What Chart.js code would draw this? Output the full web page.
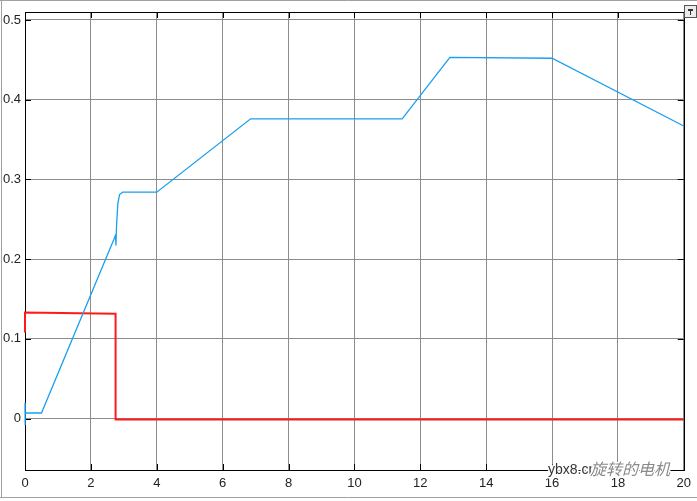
<!DOCTYPE html>
<html>
<head>
<meta charset="utf-8">
<script src="https://cdn.jsdelivr.net/npm/chart.js@4/dist/chart.umd.min.js"></script>
<style>
  html, body { margin: 0; padding: 0; background: #fff; }
  #wrap { width: 697px; height: 501px; position: relative; }
</style>
</head>
<body>
<div id="wrap"><canvas id="scope"></canvas></div>
<script>
// blue trace (time, value)
const blueX = [0, 0, 0.01, 0.5, 2.75, 2.76, 2.78, 2.82, 2.87, 2.97, 4.0, 6.85, 11.45, 12.9, 16.0, 20];
const blueY = [0.02, -0.008, 0.007, 0.007, 0.23, 0.217, 0.243, 0.27, 0.281, 0.284, 0.284, 0.376, 0.376, 0.453, 0.452, 0.367];

// red trace
const redX = [0, 0, 2.75, 2.75, 20];
const redY = [0.108, 0.133, 0.1315, -0.001, -0.001];

const xTicks = [0, 2, 4, 6, 8, 10, 12, 14, 16, 18, 20];
const yTicks = [0, 0.1, 0.2, 0.3, 0.4, 0.5];

function toPoints(xs, ys) {
    return xs.map((x, i) => ({ x: x, y: ys[i] }));
}

// box, inward ticks on all four sides, window frame and watermark
const scopeFrame = {
    id: 'scopeFrame',
    beforeDraw(chart) {
        const c = chart.ctx;
        c.save();
        c.strokeStyle = '#a0a0a0';
        c.lineWidth = 1;
        c.beginPath();
        c.moveTo(0, 0.5); c.lineTo(697, 0.5);
        c.moveTo(1.5, 0); c.lineTo(1.5, 497);
        c.moveTo(0, 497.5); c.lineTo(697, 497.5);
        c.stroke();
        c.restore();
    },
    beforeDatasetsDraw(chart) {
        const c = chart.ctx;
        const a = chart.chartArea;
        const xs = chart.scales.x;
        const ys = chart.scales.y;
        c.save();
        c.strokeStyle = '#000';
        c.lineWidth = 1;
        c.strokeRect(Math.round(a.left) + 0.5, Math.round(a.top) + 0.5,
                     Math.round(a.right - a.left), Math.round(a.bottom - a.top));
        c.beginPath();
        xTicks.forEach(v => {
            const px = Math.round(xs.getPixelForValue(v)) + 0.5;
            c.moveTo(px, a.bottom); c.lineTo(px, a.bottom - 6);
            c.moveTo(px, a.top); c.lineTo(px, a.top + 6);
        });
        yTicks.forEach(v => {
            const py = Math.round(ys.getPixelForValue(v)) + 0.5;
            c.moveTo(a.left, py); c.lineTo(a.left + 6, py);
            c.moveTo(a.right, py); c.lineTo(a.right - 6, py);
        });
        c.stroke();
        c.restore();
    },
    afterDraw(chart) {
        const c = chart.ctx;
        c.save();
        // little button top-right
        c.fillStyle = '#ececec';
        c.fillRect(684, 5, 12, 12);
        c.strokeStyle = '#555';
        c.lineWidth = 1;
        c.strokeRect(684.5, 5.5, 12, 12);
        c.fillStyle = '#333';
        c.fillRect(688, 9, 5, 2);
        c.fillRect(690, 9, 1, 6);

        // watermark
        c.font = '14px "Liberation Sans", Arial, sans-serif';
        c.textBaseline = 'middle';
        c.lineWidth = 3;
        c.strokeStyle = '#fff';
        c.fillStyle = '#333';
        c.strokeText('ybx8.cn', 548, 470);
        c.fillText('ybx8.cn', 548, 470);
        c.font = 'italic 16px "Noto Sans CJK SC", sans-serif';
        c.fillStyle = '#8a8a8a';
        c.strokeText('旋转的电机', 590, 469);
        c.fillText('旋转的电机', 590, 469);
        c.restore();
    }
};

const ctx = document.getElementById('scope').getContext('2d');
new Chart(ctx, {
    type: 'scatter',
    data: {
        datasets: [
            {
                label: 'speed',
                data: toPoints(blueX, blueY),
                showLine: true,
                borderColor: '#1a9ff0',
                borderWidth: 1.3,
                pointRadius: 0,
                tension: 0,
                clip: 4
            },
            {
                label: 'torque',
                data: toPoints(redX, redY),
                showLine: true,
                borderColor: '#ff1a1a',
                borderWidth: 2,
                pointRadius: 0,
                tension: 0,
                clip: 4
            }
        ]
    },
    options: {
        responsive: true,
        maintainAspectRatio: false,
        animation: false,
        layout: { padding: { left: 0, right: 11, top: 12, bottom: 0 } },
        plugins: {
            legend: { display: false },
            tooltip: { enabled: false }
        },
        scales: {
            x: {
                type: 'linear',
                min: 0,
                max: 20,
                afterBuildTicks: s => { s.ticks = xTicks.map(v => ({ value: v })); },
                afterFit: s => { s.height = 31; },
                grid: { color: '#8c8c8c', lineWidth: 1, drawTicks: false },
                border: { display: false },
                ticks: {
                    color: '#222',
                    padding: 6,
                    maxRotation: 0,
                    autoSkip: false,
                    font: { family: '"Liberation Sans", Arial, sans-serif', size: 13 }
                }
            },
            y: {
                type: 'linear',
                min: -0.0645,
                max: 0.51,
                afterBuildTicks: s => { s.ticks = yTicks.map(v => ({ value: v })); },
                afterFit: s => { s.width = 25; },
                grid: { color: '#8c8c8c', lineWidth: 1, drawTicks: false },
                border: { display: false },
                ticks: {
                    color: '#222',
                    padding: 4,
                    autoSkip: false,
                    font: { family: '"Liberation Sans", Arial, sans-serif', size: 13 },
                    callback: v => String(Math.round(v * 10) / 10)
                }
            }
        }
    },
    plugins: [scopeFrame]
});
</script>
</body>
</html>
